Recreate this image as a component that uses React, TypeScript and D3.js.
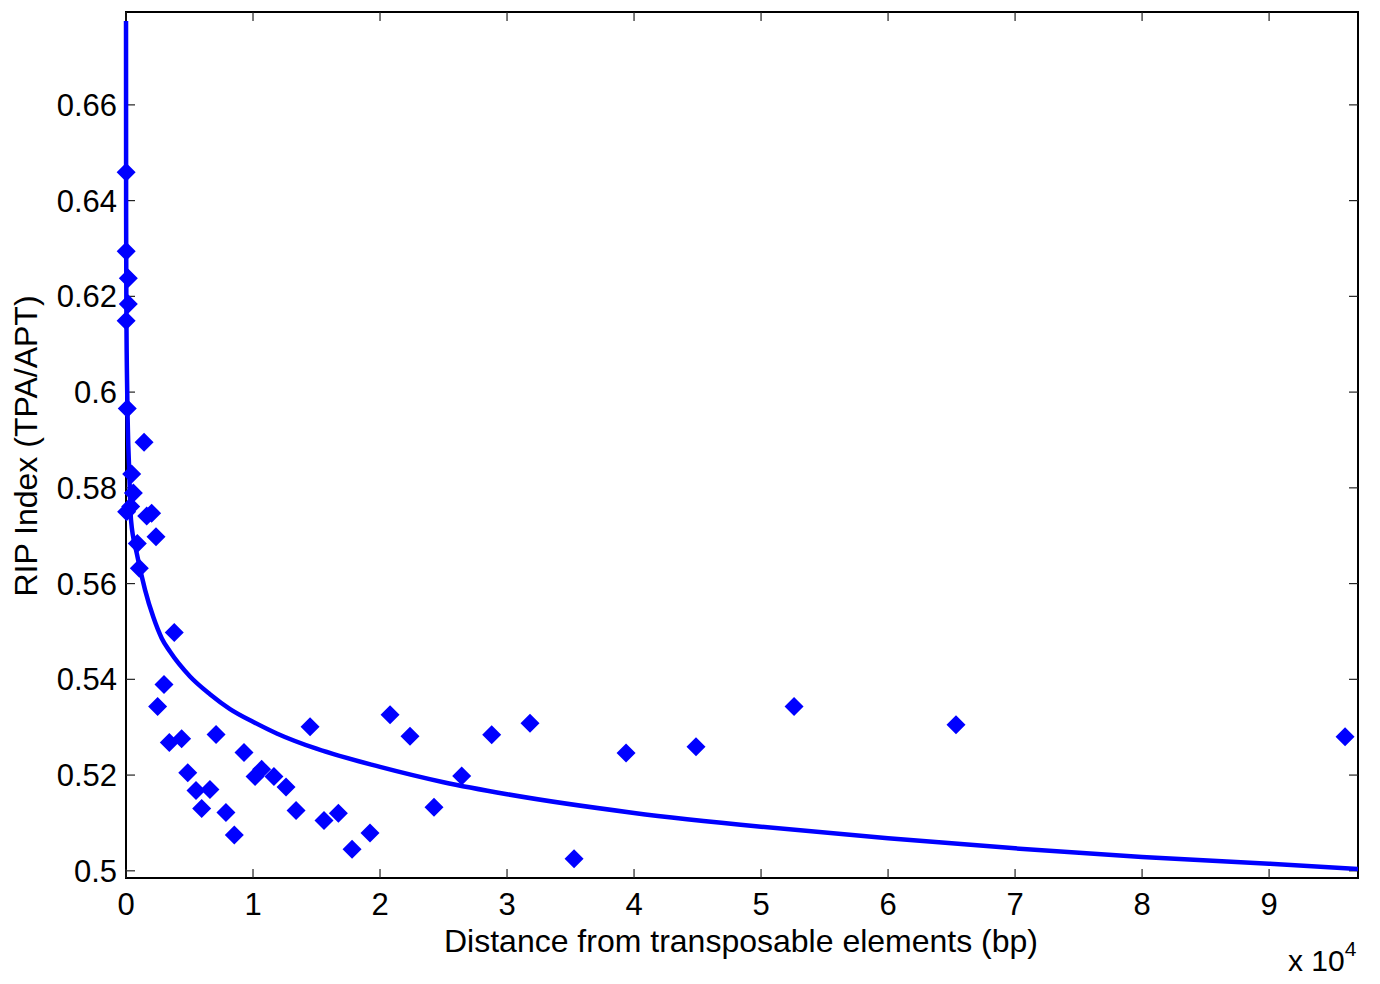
import React, { useRef, useEffect } from "react";
import * as d3 from "d3";

// scatter: distance (bp) and RIP index
const distances = [
  10, 15, 180, 180, 10, 100, 1420, 450, 580, 370, 50, 1630, 2020, 2360, 890, 1050,
  3800, 2990, 2490, 3410, 4380, 7090, 4860, 5510, 6610, 5960, 7870, 8530, 9290,
  10160, 10680, 11650, 12600, 13390, 14490, 15590, 16720, 17800, 19210, 20790,
  22360, 24250, 26430, 28790, 31810, 35280, 39370, 44880, 52600, 65350, 95980,
];
const ripIndex = [
  0.6459, 0.6294, 0.6238, 0.6184, 0.6149, 0.5966, 0.5895, 0.5829, 0.5789, 0.5761, 0.575, 0.5741, 0.5747, 0.5698, 0.5684, 0.5632,
  0.5498, 0.5389, 0.5343, 0.5268, 0.5276, 0.5285, 0.5205, 0.5168, 0.517, 0.513, 0.5122, 0.5075, 0.5247,
  0.5197, 0.5212, 0.5197, 0.5175, 0.5126, 0.5301, 0.5105, 0.512, 0.5045, 0.5079, 0.5326,
  0.5281, 0.5133, 0.5198, 0.5284, 0.5308, 0.5025, 0.5246, 0.5259, 0.5343, 0.5305, 0.528,
];

// fitted curve
const fitX = [1, 10, 30, 100, 260, 394, 840, 1500, 2150, 2810, 3460, 5040, 6610, 8190, 10030, 11870, 15000, 20000, 25000, 30000, 40000, 50000, 60000, 70000, 80000, 90000, 97000];
const fitY = [0.6775, 0.6365, 0.617, 0.5993, 0.583, 0.5733, 0.5664, 0.5587, 0.553, 0.5486, 0.5458, 0.5406, 0.5369, 0.5338, 0.5311, 0.5287, 0.5255, 0.5217, 0.5185, 0.516, 0.5121, 0.5092, 0.5068, 0.5047, 0.5029, 0.5015, 0.5004];

const xTicks = [0, 1, 2, 3, 4, 5, 6, 7, 8, 9];
const yTicks = [0.5, 0.52, 0.54, 0.56, 0.58, 0.6, 0.62, 0.64, 0.66];

const W = 1380;
const H = 984;
const margin = { top: 12, right: 22, bottom: 106, left: 126 };
const FONT = "'Liberation Sans', Arial, sans-serif";

function App() {
  const svgRef = useRef(null);

  useEffect(() => {
    document.body.style.margin = "0";
    const svg = d3.select(svgRef.current);
    svg.selectAll("*").remove();

    const x = d3.scaleLinear().domain([0, 97000]).range([margin.left, W - margin.right]);
    const y = d3.scaleLinear().domain([0.4985, 0.6794]).range([H - margin.bottom, margin.top]);
    const x0 = margin.left, x1 = W - margin.right, y0 = H - margin.bottom, y1 = margin.top;

    svg.append("clipPath").attr("id", "plotclip")
      .append("rect").attr("x", x0 - 3).attr("y", y1).attr("width", x1 - x0 + 3).attr("height", y0 - y1);

    // box
    svg.append("rect")
      .attr("x", x0).attr("y", y1).attr("width", x1 - x0).attr("height", y0 - y1)
      .attr("fill", "none").attr("stroke", "#000").attr("stroke-width", 2);

    // ticks
    const tl = 9;
    const tg = svg.append("g").attr("stroke", "#222").attr("stroke-width", 1.2);
    xTicks.forEach((t) => {
      const px = x(t * 10000);
      tg.append("line").attr("x1", px).attr("x2", px).attr("y1", y0).attr("y2", y0 - tl);
      tg.append("line").attr("x1", px).attr("x2", px).attr("y1", y1).attr("y2", y1 + tl);
    });
    yTicks.forEach((t) => {
      const py = y(t);
      tg.append("line").attr("x1", x0).attr("x2", x0 + tl).attr("y1", py).attr("y2", py);
      tg.append("line").attr("x1", x1).attr("x2", x1 - tl).attr("y1", py).attr("y2", py);
    });

    // curve
    const line = d3.line<number>()
      .x((_, i) => x(fitX[i]))
      .y((d) => y(d))
      .curve(d3.curveMonotoneX);
    svg.append("path")
      .attr("d", line(fitY))
      .attr("fill", "none")
      .attr("stroke", "#0000ff")
      .attr("stroke-width", 4.5)
      .attr("clip-path", "url(#plotclip)");

    // markers
    const r = 9.5;
    svg.append("g").selectAll("path")
      .data(distances)
      .enter()
      .append("path")
      .attr("d", (d, i) => {
        const cx = x(d), cy = y(ripIndex[i]);
        return `M${cx},${cy - r}L${cx + r},${cy}L${cx},${cy + r}L${cx - r},${cy}Z`;
      })
      .attr("fill", "#0000ff");

    // tick labels
    xTicks.forEach((t) => {
      svg.append("text")
        .attr("x", x(t * 10000)).attr("y", 915)
        .attr("text-anchor", "middle")
        .style("font-family", FONT).style("font-size", "31px")
        .text(String(t));
    });
    yTicks.forEach((t) => {
      svg.append("text")
        .attr("x", 117).attr("y", y(t) + 11)
        .attr("text-anchor", "end")
        .style("font-family", FONT).style("font-size", "31px")
        .text(String(t));
    });

    svg.append("text")
      .attr("x", 741).attr("y", 952)
      .attr("text-anchor", "middle")
      .style("font-family", FONT).style("font-size", "32px")
      .text("Distance from transposable elements (bp)");

    const exp = svg.append("text")
      .attr("x", 1288).attr("y", 971)
      .style("font-family", FONT).style("font-size", "30px");
    exp.append("tspan").text("x 10");
    exp.append("tspan").attr("dy", -15).style("font-size", "21px").text("4");

    svg.append("text")
      .attr("transform", "translate(37,446) rotate(-90)")
      .attr("text-anchor", "middle")
      .style("font-family", FONT).style("font-size", "32px")
      .text("RIP Index (TPA/APT)");
  }, []);

  return <svg ref={svgRef} width={W} height={H} style={{ display: "block", background: "#fff" }}></svg>;
}

export default App;
